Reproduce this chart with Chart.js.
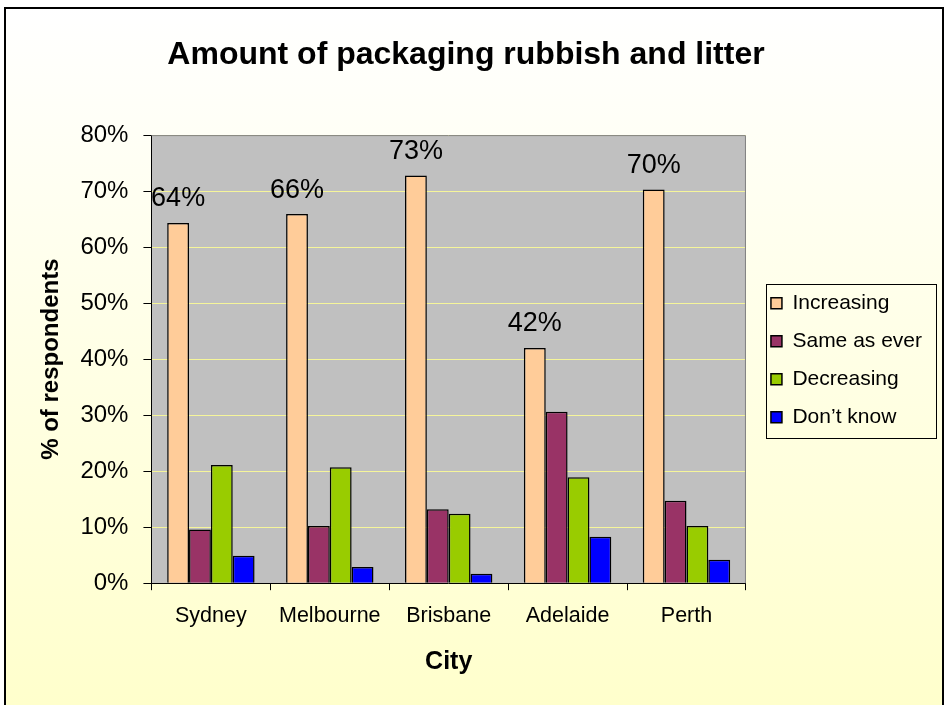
<!DOCTYPE html>
<html><head><meta charset="utf-8">
<script src="https://cdn.jsdelivr.net/npm/chart.js@4"></script>
<style>html,body{margin:0;padding:0;background:#fff}#wrap{width:946px;height:705px;position:relative}canvas{display:block}</style>
</head><body><div id="wrap"><canvas id="c" width="946" height="705"></canvas></div>
<script>
const cities = ['Sydney', 'Melbourne', 'Brisbane', 'Adelaide', 'Perth'];
const seriesNames = ['Increasing', 'Same as ever', 'Decreasing', 'Don\u2019t know'];
const increasing = [64.3, 65.9, 72.8, 42.0, 70.3];
const sameAsEver = [9.6, 10.2, 13.2, 30.6, 14.7];
const decreasing = [21.1, 20.7, 12.4, 18.9, 10.2];
const dontKnow = [4.9, 2.9, 1.7, 8.3, 4.2];
const yTicks = [0, 10, 20, 30, 40, 50, 60, 70, 80];
const seriesColors = ['#FFCC99', '#993366', '#99CC00', '#0000FF'];

const FAM = "'Liberation Sans', Arial, sans-serif";
const seriesValues = [increasing, sameAsEver, decreasing, dontKnow];

const bgPlugin = {
  id: 'bgPlugin',
  beforeDraw(chart) {
    const ctx = chart.ctx, W = chart.width, H = chart.height;
    ctx.save();
    ctx.fillStyle = '#FFFFFF';
    ctx.fillRect(0, 0, W, H);
    const g = ctx.createLinearGradient(0, 8, 0, H);
    g.addColorStop(0, '#FFFFFF');
    g.addColorStop(1, '#FFFFCC');
    ctx.fillStyle = g;
    ctx.fillRect(5, 8, 939, H);
    ctx.strokeStyle = '#000';
    ctx.lineWidth = 2;
    ctx.strokeRect(5, 8, 938, H + 10);
    const a = chart.chartArea;
    ctx.fillStyle = '#C0C0C0';
    ctx.fillRect(a.left, a.top, a.right - a.left, a.bottom - a.top);
    ctx.restore();
  },
  beforeDatasetsDraw(chart) {
    const ctx = chart.ctx, a = chart.chartArea;
    ctx.save();
    ctx.strokeStyle = '#808080';
    ctx.lineWidth = 1;
    ctx.beginPath();
    ctx.moveTo(a.left, a.top + 0.5);
    ctx.lineTo(a.right - 0.5, a.top + 0.5);
    ctx.lineTo(a.right - 0.5, a.bottom);
    ctx.stroke();
    ctx.restore();
  }
};

const labelPlugin = {
  id: 'labelPlugin',
  afterDatasetsDraw(chart) {
    const ctx = chart.ctx;
    const meta = chart.getDatasetMeta(0);
    ctx.save();
    ctx.fillStyle = '#000';
    ctx.font = '27px ' + FAM;
    ctx.textAlign = 'center';
    ctx.textBaseline = 'middle';
    meta.data.forEach((bar, i) => {
      ctx.fillText(Math.round(increasing[i]) + '%', bar.x, bar.y - 24);
    });
    ctx.restore();
  }
};

const legendPlugin = {
  id: 'legendBox',
  afterLayout(chart) {
    const lg = chart.legend;
    lg.left += 8; lg.right += 8;
    lg.top += 1; lg.bottom += 1;
  },
  afterDraw(chart) {
    const lg = chart.legend;
    if (!lg || !lg.columnSizes) return;
    const pad = lg.options.labels.padding;
    const col = lg.columnSizes[0];
    const startY = (lg.top + pad + lg.bottom - col.height) / 2;
    const ctx = chart.ctx;
    ctx.save();
    ctx.strokeStyle = '#000';
    ctx.lineWidth = 1;
    const x0 = Math.round(lg.left + pad - 5) + 0.5;
    const x1 = Math.round(lg.left + pad + col.width + 14) + 0.5;
    const y0 = Math.round(startY - 9) + 0.5;
    const y1 = Math.round(startY + col.height - pad + 10) + 0.5;
    ctx.strokeRect(x0, y0, x1 - x0, y1 - y0);
    ctx.restore();
  }
};

new Chart(document.getElementById('c'), {
  type: 'bar',
  data: {
    labels: cities,
    datasets: seriesNames.map((n, i) => ({
      label: n,
      data: seriesValues[i],
      backgroundColor: seriesColors[i],
      borderColor: '#000',
      borderWidth: 1.5,
      categoryPercentage: 0.735,
      barPercentage: 1.0
    }))
  },
  options: {
    responsive: false,
    animation: false,
    devicePixelRatio: 1,
    layout: { padding: { top: 10, left: 8, right: 22, bottom: 23 } },
    plugins: {
      title: {
        display: true,
        text: 'Amount of packaging rubbish and litter',
        color: '#000',
        font: { family: FAM, size: 32, weight: 'bold' },
        padding: { top: 26, bottom: 60.7 }
      },
      legend: {
        position: 'right',
        fullSize: false,
        labels: {
          boxWidth: 11, boxHeight: 11, padding: 17, color: '#000',
          font: { family: FAM, size: 21 }
        }
      },
      tooltip: { enabled: false }
    },
    scales: {
      x: {
        grid: { offset: true, drawOnChartArea: false, drawTicks: true, tickLength: 7, tickColor: '#000', color: '#000' },
        border: { color: '#000', width: 1 },
        ticks: { color: '#000', padding: 13, font: { family: FAM, size: 21.5 } },
        title: { display: true, text: 'City', color: '#000', font: { family: FAM, size: 25, weight: 'bold' }, padding: { top: 5, bottom: 5 } }
      },
      y: {
        min: 0, max: 80,
        afterBuildTicks: (s) => { s.ticks = yTicks.map(v => ({ value: v })); },
        grid: { color: '#F5F59A', lineWidth: 1, drawTicks: true, tickLength: 8, tickColor: '#000' },
        border: { color: '#000', width: 1 },
        ticks: { color: '#000', padding: 15, font: { family: FAM, size: 24 }, callback: (v) => v + '%' },
        title: { display: true, text: '% of respondents', color: '#000', font: { family: FAM, size: 24, weight: 'bold' }, padding: { top: 28.6, bottom: 0 } }
      }
    }
  },
  plugins: [bgPlugin, labelPlugin, legendPlugin]
});
</script>
</body></html>
